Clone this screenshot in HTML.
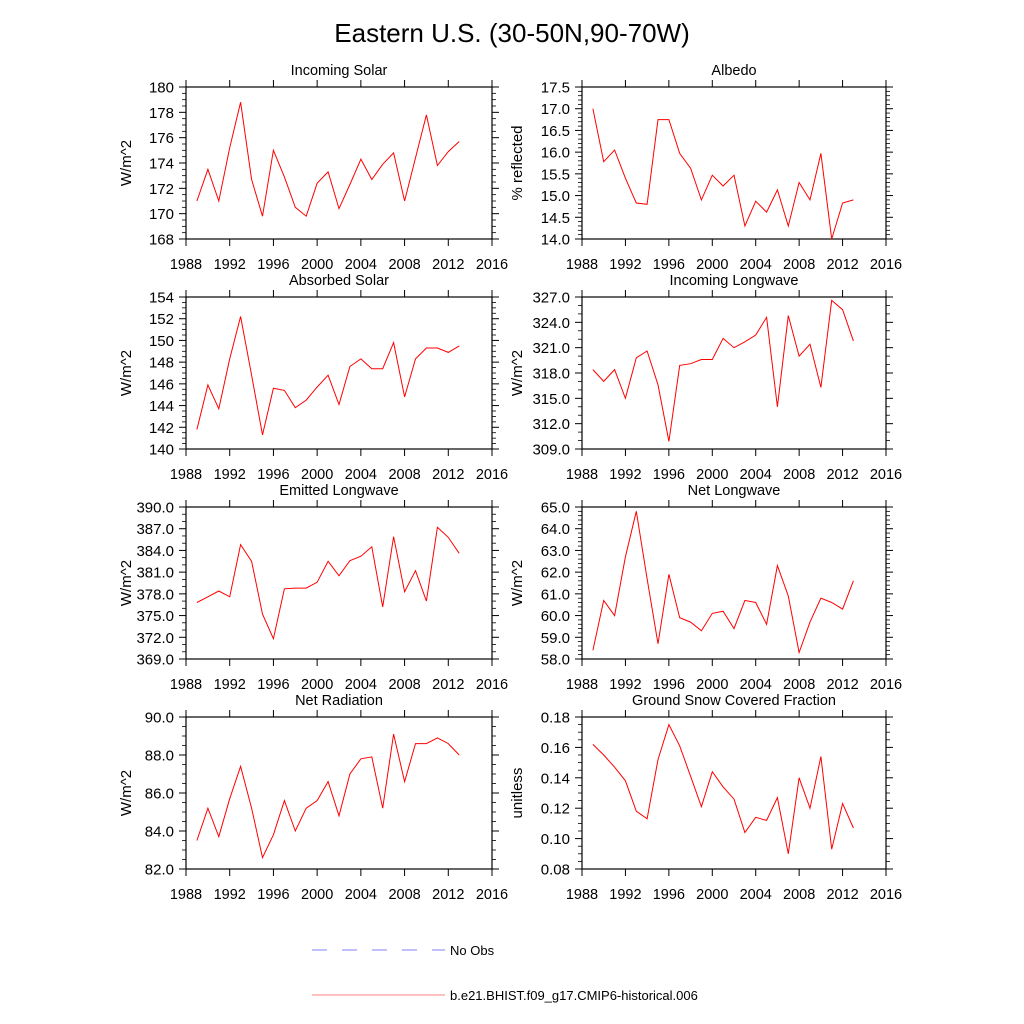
<!DOCTYPE html>
<html><head><meta charset="utf-8"><style>
body{margin:0;background:#fff;}
svg{display:block;font-family:"Liberation Sans",sans-serif;}
</style></head><body>
<svg id="chart" width="1024" height="1024" viewBox="0 0 1024 1024">
<text x="512" y="42" font-size="26" text-anchor="middle">Eastern U.S. (30-50N,90-70W)</text>
<g>
<line x1="312" y1="950" x2="445" y2="950" stroke="#8080ff" stroke-width="1" stroke-dasharray="15,15"/>
<text x="450" y="955" font-size="13">No Obs</text>
<line x1="312" y1="995" x2="445" y2="995" stroke="#ff8080" stroke-width="1"/>
<text x="450" y="1000" font-size="13">b.e21.BHIST.f09_g17.CMIP6-historical.006</text>
</g>
</svg>
<script>
const years=[1989,1990,1991,1992,1993,1994,1995,1996,1997,1998,1999,2000,2001,2002,2003,2004,2005,2006,2007,2008,2009,2010,2011,2012,2013];
const xTicks=[1988,1992,1996,2000,2004,2008,2012,2016];
const incomingSolar=[171.0,173.5,171.0,175.2,178.8,172.7,169.8,175.0,172.9,170.5,169.8,172.4,173.3,170.4,172.3,174.3,172.7,173.9,174.8,171.0,174.4,177.8,173.8,174.9,175.7];
const albedo=[17.0,15.78,16.05,15.4,14.83,14.8,16.75,16.75,15.97,15.63,14.9,15.47,15.22,15.47,14.3,14.87,14.62,15.13,14.3,15.3,14.9,15.97,14.0,14.83,14.9];
const absorbedSolar=[141.8,145.9,143.7,148.3,152.2,146.8,141.3,145.6,145.4,143.8,144.5,145.7,146.8,144.1,147.6,148.3,147.4,147.4,149.8,144.8,148.3,149.3,149.3,148.9,149.5];
const incomingLW=[318.4,317.0,318.4,315.0,319.8,320.6,316.6,309.9,318.9,319.1,319.6,319.6,322.1,321.0,321.7,322.5,324.6,314.0,324.8,320.0,321.4,316.3,326.6,325.5,321.8];
const emittedLW=[376.8,377.6,378.4,377.6,384.8,382.5,375.2,371.8,378.7,378.8,378.8,379.6,382.5,380.5,382.6,383.2,384.5,376.2,385.9,378.3,381.2,377.0,387.2,385.8,383.6];
const netLW=[58.4,60.7,60.0,62.7,64.8,61.7,58.7,61.9,59.9,59.7,59.3,60.1,60.2,59.4,60.7,60.6,59.6,62.3,60.9,58.3,59.7,60.8,60.6,60.3,61.6];
const netRad=[83.5,85.2,83.7,85.7,87.4,85.2,82.6,83.8,85.6,84.0,85.2,85.6,86.6,84.8,87.0,87.8,87.9,85.2,89.1,86.6,88.6,88.6,88.9,88.6,88.0];
const snowFrac=[0.162,0.155,0.147,0.138,0.118,0.113,0.152,0.175,0.161,0.141,0.121,0.144,0.134,0.126,0.104,0.114,0.112,0.127,0.090,0.140,0.120,0.154,0.093,0.123,0.107];
const ticksSolar=["168","170","172","174","176","178","180"];
const ticksAlbedo=["14.0","14.5","15.0","15.5","16.0","16.5","17.0","17.5"];
const ticksAbs=["140","142","144","146","148","150","152","154"];
const ticksILW=["309.0","312.0","315.0","318.0","321.0","324.0","327.0"];
const ticksELW=["369.0","372.0","375.0","378.0","381.0","384.0","387.0","390.0"];
const ticksNLW=["58.0","59.0","60.0","61.0","62.0","63.0","64.0","65.0"];
const ticksNR=["82.0","84.0","86.0","88.0","90.0"];
const ticksSnow=["0.08","0.10","0.12","0.14","0.16","0.18"];

const NS='http://www.w3.org/2000/svg';
const svg=document.getElementById('chart');
function mk(tag,attrs,parent){const e=document.createElementNS(NS,tag);for(const k in attrs)e.setAttribute(k,attrs[k]);(parent||svg).appendChild(e);return e;}
const panels=[
 {name:'incoming-solar',title:'Incoming Solar',yl:'W/m^2',data:incomingSolar,ticks:ticksSolar,col:0,row:0,minor:4},
 {name:'albedo',title:'Albedo',yl:'% reflected',data:albedo,ticks:ticksAlbedo,col:1,row:0,minor:5},
 {name:'absorbed-solar',title:'Absorbed Solar',yl:'W/m^2',data:absorbedSolar,ticks:ticksAbs,col:0,row:1,minor:4},
 {name:'incoming-longwave',title:'Incoming Longwave',yl:'W/m^2',data:incomingLW,ticks:ticksILW,col:1,row:1,minor:3},
 {name:'emitted-longwave',title:'Emitted Longwave',yl:'W/m^2',data:emittedLW,ticks:ticksELW,col:0,row:2,minor:3},
 {name:'net-longwave',title:'Net Longwave',yl:'W/m^2',data:netLW,ticks:ticksNLW,col:1,row:2,minor:5},
 {name:'net-radiation',title:'Net Radiation',yl:'W/m^2',data:netRad,ticks:ticksNR,col:0,row:3,minor:4},
 {name:'snow-fraction',title:'Ground Snow Covered Fraction',yl:'unitless',data:snowFrac,ticks:ticksSnow,col:1,row:3,minor:4}
];
const lefts=[186,582],rights=[492,886],tops=[87,297,507,717],H=152;
panels.forEach(p=>{
 const L=lefts[p.col],R=rights[p.col],T=tops[p.row],B=T+H;
 const g=mk('g',{});
 
 
 const ymin=parseFloat(p.ticks[0]),ymax=parseFloat(p.ticks[p.ticks.length-1]);
 const x=v=>L+(v-xTicks[0])/(xTicks[xTicks.length-1]-xTicks[0])*(R-L);
 const y=v=>B-(v-ymin)/(ymax-ymin)*(B-T);
 const fr=mk('rect',{x:L,y:T,width:R-L,height:H,fill:'none',stroke:'#000','stroke-width':1.2},g);
 
 
 xTicks.forEach(t=>{
  const xx=x(t);
  mk('line',{x1:xx,y1:B,x2:xx,y2:B+7,stroke:'#000'},g);
  mk('line',{x1:xx,y1:T,x2:xx,y2:T-7,stroke:'#000'},g);
  const tl=mk('text',{x:xx,y:B+30,'font-size':14.5,'text-anchor':'middle'},g);
  tl.textContent=t;
  
  
 });
 const step=(ymax-ymin)/(p.ticks.length-1);
 p.ticks.forEach((t,i)=>{
  const v=parseFloat(t),yy=y(v);
  mk('line',{x1:L,y1:yy,x2:L-7,y2:yy,stroke:'#000'},g);
  mk('line',{x1:R,y1:yy,x2:R+7,y2:yy,stroke:'#000'},g);
  if(i<p.ticks.length-1){for(let k=1;k<p.minor;k++){const ym=y(v+step*k/p.minor);
   mk('line',{x1:L,y1:ym,x2:L-4,y2:ym,stroke:'#000','stroke-width':0.8},g);
   mk('line',{x1:R,y1:ym,x2:R+4,y2:ym,stroke:'#000','stroke-width':0.8},g);}}
  const tl=mk('text',{x:L-12,y:yy+5.5,'font-size':15,'text-anchor':'end'},g);
  tl.textContent=t;
  
  
 });
 const ti=mk('text',{x:(L+R)/2,y:T-12,'font-size':14.5,'text-anchor':'middle'},g);
 ti.textContent=p.title;
 
 
 const yc=(T+B)/2,yx=p.col===0?131:522;
 const yt=mk('text',{x:yx,y:yc,'font-size':15,'text-anchor':'middle',transform:`rotate(-90 ${yx} ${yc})`},g);
 yt.textContent=p.yl;
 
 
 const pts=p.data.map((v,i)=>x(years[i]).toFixed(1)+','+y(v).toFixed(1)).join(' ');
 const ln=mk('polyline',{points:pts,fill:'none',stroke:'#ff0000','stroke-width':1},g);
 
 
});
</script>
</body></html>
